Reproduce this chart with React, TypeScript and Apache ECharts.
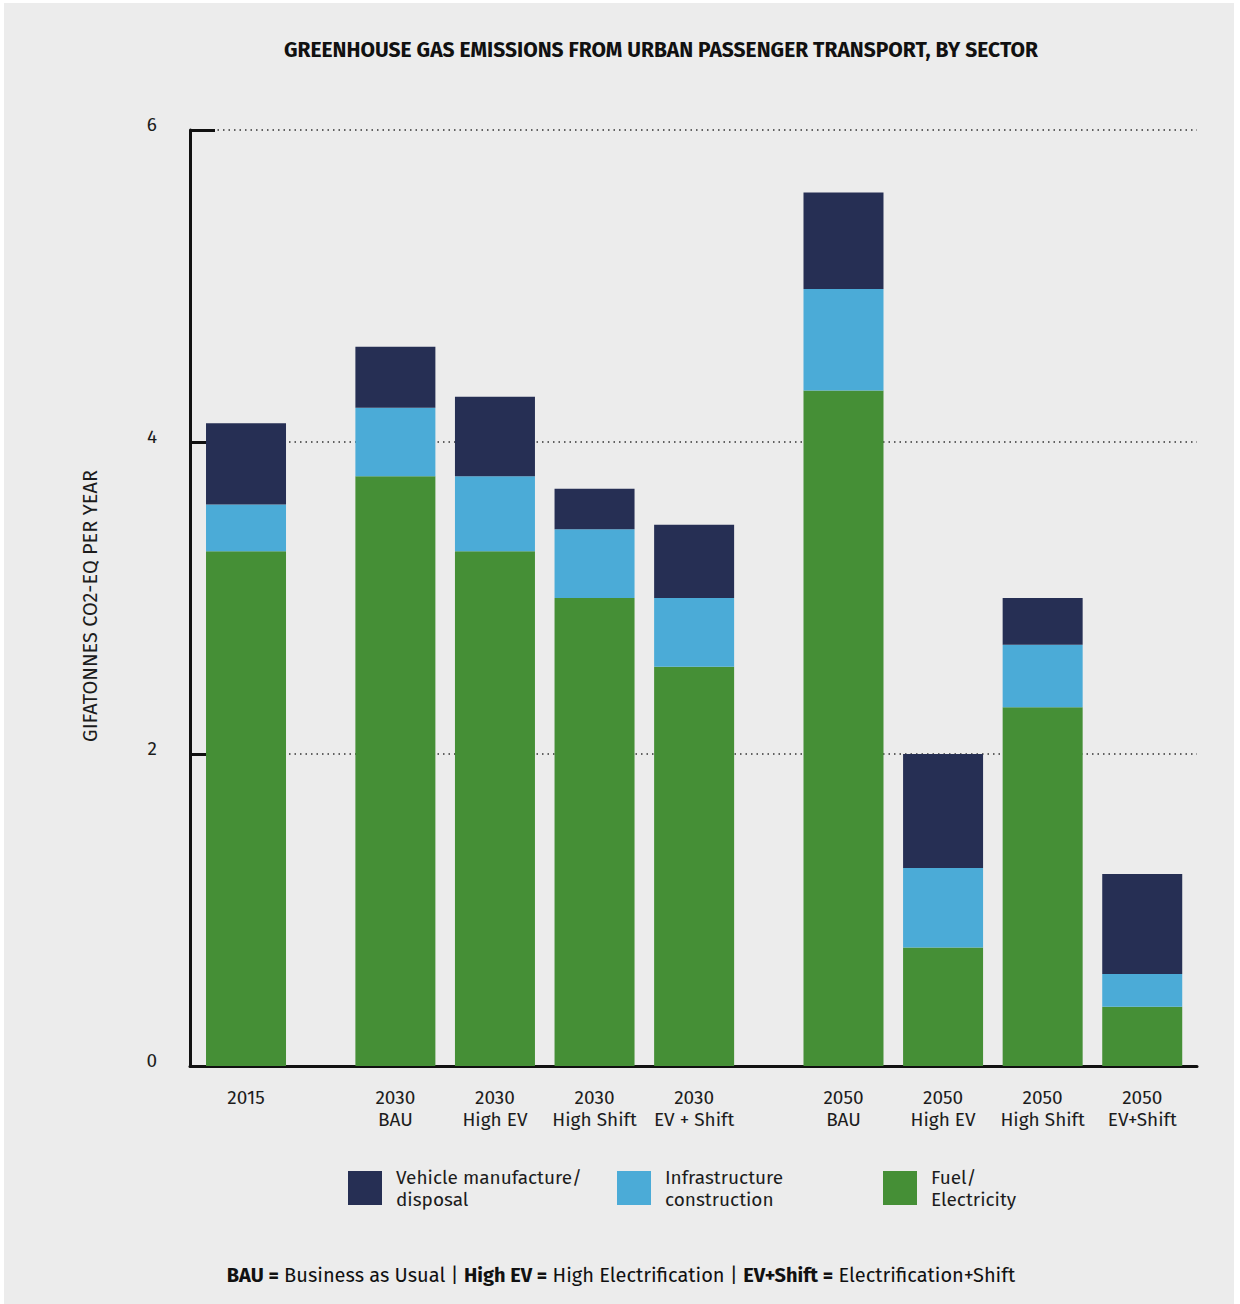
import React, { useEffect, useRef } from "react";
import * as echarts from "echarts";

const categories = [
  "2015",
  "2030\nBAU",
  "2030\nHigh EV",
  "2030\nHigh Shift",
  "2030\nEV + Shift",
  "2050\nBAU",
  "2050\nHigh EV",
  "2050\nHigh Shift",
  "2050\nEV+Shift",
];
// slot position of each bar along the horizontal axis (groups separated by wider gaps)
const slots = [0, 1.5, 2.5, 3.5, 4.5, 6, 7, 8, 9];

const fuelElectricity = [3.3, 3.78, 3.3, 3.0, 2.56, 4.33, 0.76, 2.3, 0.38];
const infrastructure = [0.3, 0.44, 0.48, 0.44, 0.44, 0.65, 0.51, 0.4, 0.21];
const vehicle = [0.52, 0.39, 0.51, 0.26, 0.47, 0.62, 0.73, 0.3, 0.64];

const yTicks = [0, 2, 4, 6];

const seriesNames = {
  vehicle: "Vehicle manufacture/\ndisposal",
  infra: "Infrastructure\nconstruction",
  fuel: "Fuel/\nElectricity",
};

const colors = {
  vehicle: "#262f54",
  infra: "#4babd7",
  fuel: "#458f36",
};

const FONT = "'Fira Sans', 'Noto Sans', sans-serif";
const TEXT = "#1c1c1c";

export default function App() {
  const ref = useRef<HTMLDivElement>(null);

  useEffect(() => {
    if (!ref.current) return;
    const chart = echarts.init(ref.current, null, { renderer: "svg" });

    const mk = (vals: number[]) => vals.map((v, i) => [v, slots[i]]);

    const barBase = {
      type: "bar",
      stack: "total",
      barWidth: 80,
      encode: { x: 1, y: 0 },
      emphasis: { disabled: true },
    };

    const legendBase = {
      orient: "horizontal",
      top: 1161,
      itemWidth: 34,
      itemHeight: 34,
      icon: "rect",
      selectedMode: false,
      textStyle: {
        fontFamily: FONT,
        fontSize: 19,
        lineHeight: 22,
        color: TEXT,
        padding: [0, 0, 0, 9],
      },
    };

    chart.setOption({
      animation: false,
      backgroundColor: "#ffffff",
      textStyle: { fontFamily: FONT },
      graphic: [
        {
          type: "rect",
          z: -100,
          shape: { x: 4, y: 3, width: 1230, height: 1310 },
          style: { fill: "#ececec" },
          silent: true,
        },
        {
          type: "text",
          x: 661,
          y: 50,
          style: {
            text: "GREENHOUSE GAS EMISSIONS FROM URBAN PASSENGER TRANSPORT, BY SECTOR",
            fontFamily: FONT,
            fontSize: 21,
            fontWeight: "bold",
            fill: "#111",
            align: "center",
            verticalAlign: "middle",
          },
        },
        {
          type: "text",
          x: 621,
          y: 1275,
          style: {
            text:
              "{b|BAU =} Business as Usual | {b|High EV =} High Electrification | {b|EV+Shift =} Electrification+Shift",
            fontFamily: FONT,
            fontSize: 20,
            fill: "#111",
            align: "center",
            verticalAlign: "middle",
            rich: {
              b: { fontFamily: FONT, fontSize: 20, fontWeight: "bold", fill: "#111" },
            },
          },
        },
      ],
      legend: [
        { ...legendBase, left: 343, data: [seriesNames.vehicle] },
        { ...legendBase, left: 612, data: [seriesNames.infra] },
        { ...legendBase, left: 878, data: [seriesNames.fuel] },
      ],
      grid: { left: 190, right: 43, top: 130, bottom: 238, containLabel: false },
      xAxis: {
        type: "value",
        min: -0.5625,
        max: 9.55,
        splitLine: { show: false },
        axisTick: { show: false },
        axisLine: { show: true, onZero: false, lineStyle: { color: "#111", width: 3 } },
        axisLabel: {
          customValues: slots,
          formatter: (v: number) => {
            const i = slots.indexOf(v);
            return i >= 0 ? categories[i] : "";
          },
          fontFamily: FONT,
          fontSize: 19,
          lineHeight: 22,
          color: TEXT,
          margin: 20,
          verticalAlign: "top",
        },
      },
      yAxis: {
        type: "value",
        min: yTicks[0],
        max: yTicks[yTicks.length - 1],
        interval: 2,
        name: "GIFATONNES CO2-EQ PER YEAR",
        nameLocation: "middle",
        nameRotate: 90,
        nameGap: 90,
        nameTextStyle: { fontFamily: FONT, fontSize: 20, color: TEXT, padding: [0, 16, 0, 0] },
        axisLine: { show: true, onZero: false, lineStyle: { color: "#111", width: 3 } },
        axisTick: { show: true, inside: true, length: 25, lineStyle: { color: "#111", width: 3 } },
        axisLabel: {
          fontFamily: FONT,
          fontSize: 19,
          lineHeight: 12,
          color: TEXT,
          margin: 33,
          verticalAlign: "bottom",
        },
        splitLine: {
          show: true,
          lineStyle: { color: "#333", width: 1.5, type: [1.5, 4] },
        },
      },
      series: [
        { ...barBase, name: seriesNames.fuel, data: mk(fuelElectricity), itemStyle: { color: colors.fuel } },
        { ...barBase, name: seriesNames.infra, data: mk(infrastructure), itemStyle: { color: colors.infra } },
        { ...barBase, name: seriesNames.vehicle, data: mk(vehicle), itemStyle: { color: colors.vehicle } },
      ],
    });

    return () => chart.dispose();
  }, []);

  return (
    <div
      ref={ref}
      style={{ position: "absolute", left: 0, top: 0, width: 1240, height: 1304 }}
    />
  );
}
